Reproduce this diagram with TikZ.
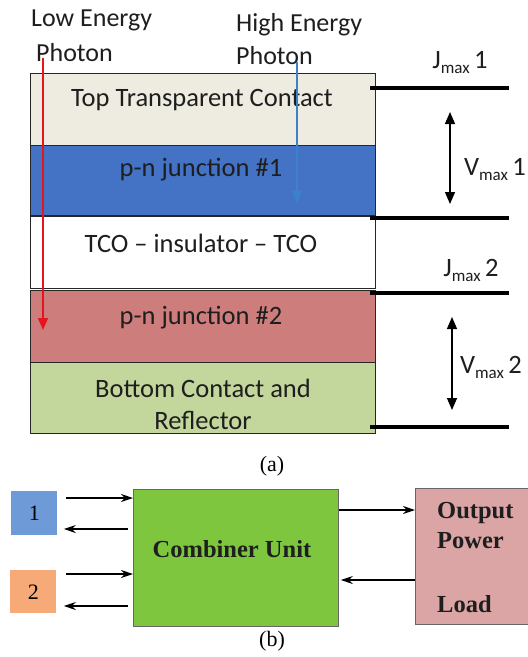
\documentclass[tikz,border=0pt]{standalone}
\usepackage{fontspec}
\setmainfont{Liberation Serif}
\newfontfamily\calib{Carlito}
\usetikzlibrary{arrows.meta}

\definecolor{topc}{RGB}{238,236,225}
\definecolor{pnone}{RGB}{68,114,196}
\definecolor{pntwo}{RGB}{206,125,125}
\definecolor{botc}{RGB}{195,214,155}
\definecolor{cellone}{RGB}{110,155,215}
\definecolor{celltwo}{RGB}{245,170,120}
\definecolor{combc}{RGB}{126,198,62}
\definecolor{loadc}{RGB}{220,165,165}
\definecolor{photred}{RGB}{230,20,30}
\definecolor{photblue}{RGB}{60,130,200}
\definecolor{txt}{RGB}{30,30,30}

\newcommand{\subm}{\raisebox{-5pt}{\fontsize{17}{17}\selectfont max}}

\tikzset{
  layer/.style={draw=black!85, line width=1.3pt, minimum width=345pt,
    inner sep=0pt, anchor=north west},
  ltext/.style={font=\calib\fontsize{26.5}{30}\selectfont, text=txt, inner sep=0pt},
  ptext/.style={font=\calib\fontsize{26}{30}\selectfont, text=txt, inner sep=0pt, anchor=west},
  terminal/.style={line width=3.2pt},
  varrow/.style={line width=1.3pt, {Triangle[length=12pt,width=10pt]}-{Triangle[length=12pt,width=10pt]}},
  photon/.style={line width=1.5pt, -{Triangle[length=12pt,width=10pt]}},
  blk/.style={draw=black!60, line width=0.8pt, inner sep=0pt, anchor=north west},
  btext/.style={font=\bfseries\fontsize{24.5}{28}\selectfont, text=txt, inner sep=0pt},
  flow/.style={line width=1.2pt, -{Stealth[length=12pt,width=8pt]}},
}

\begin{document}
\begin{tikzpicture}[x=1pt,y=-1pt]
\useasboundingbox (0,0) rectangle (528,657);

% layer stack
\node[layer, fill=topc,  minimum height=72pt] (top) at (30,73) {};
\node[layer, fill=pnone, minimum height=70pt] (pn1) at (30,145) {};
\node[layer, fill=white, minimum height=72pt] (tco) at (30,216) {};
\node[layer, fill=pntwo, minimum height=72pt] (pn2) at (30,290) {};
\node[layer, fill=botc,  minimum height=71pt] (bot) at (30,362) {};

\node[ltext] (toptxt) at (202,100) {Top Transparent Contact};
\node[ltext] (pn1txt) at (201,170) {p-n junction \#1};
\node[ltext] (tcotxt) at (201,243) {TCO – insulator – TCO};
\node[ltext] (pn2txt) at (201,318) {p-n junction \#2};
\node[ltext] (bottxt1) at (203,388) {Bottom Contact and};
\node[ltext] (bottxt2) at (203,420) {Reflector};

% photon labels
\node[ptext] (lowa) at (31,20) {Low Energy};
\node[ptext] (lowb) at (36,53) {Photon};
\node[ptext] (higha) at (236,25) {High Energy};
\node[ptext] (highb) at (236,56) {Photon};

% photon paths
\coordinate (rs) at (43,58);
\coordinate (re) at (43,330);
\coordinate (bs) at (297,62);
\coordinate (be) at (297,203);
\draw[photon, photred] (rs) -- (re);
\draw[photon, photblue] (bs) -- (be);

% terminals
\coordinate (t1a) at (370,88);  \coordinate (t1b) at (509,88);
\coordinate (t2a) at (370,218); \coordinate (t2b) at (509,218);
\coordinate (t3a) at (370,293); \coordinate (t3b) at (509,293);
\coordinate (t4a) at (370,427); \coordinate (t4b) at (509,427);
\draw[terminal] (t1a) -- (t1b);
\draw[terminal] (t2a) -- (t2b);
\draw[terminal] (t3a) -- (t3b);
\draw[terminal] (t4a) -- (t4b);

\node[ltext] (j1) at (460,63) {J\subm\,1};
\node[ltext] (j2) at (471,270) {J\subm\,2};
\node[ltext] (vl1) at (495,170) {V\subm\,1};
\node[ltext] (vl2) at (491,367) {V\subm\,2};

\coordinate (v1t) at (450,112);
\coordinate (v1b) at (450,204);
\coordinate (v2t) at (452,317);
\coordinate (v2b) at (452,410);
\draw[varrow] (v1t) -- (v1b);
\draw[varrow] (v2t) -- (v2b);

\node[font=\fontsize{22}{26}\selectfont, inner sep=0pt] (capa) at (272,466) {(a)};

% block diagram
\node[blk, draw=none, fill=cellone, minimum width=46pt, minimum height=44pt] (c1) at (11,491) {};
\node[font=\fontsize{22}{26}\selectfont, inner sep=0pt] (c1t) at (c1.center) {1};
\node[blk, draw=none, fill=celltwo, minimum width=46pt, minimum height=43pt] (c2) at (10,570) {};
\node[font=\fontsize{22}{26}\selectfont, inner sep=0pt] (c2t) at (c2.center) {2};

\node[blk, fill=combc, minimum width=205pt, minimum height=137pt] (comb) at (133,489) {};
\node[btext] (combt) at (232,549) {Combiner Unit};

\node[blk, fill=loadc, minimum width=120pt, minimum height=136pt] (load) at (415,488) {};
\node[btext, anchor=west] (outt) at (437,513) {Output};
\node[btext, anchor=west] (powt) at (437,541) {Power};
\node[btext, anchor=west] (loadt) at (437,604) {Load};

\draw[flow] (c1.east |- 0,498) ++(8,0) -- (comb.west |- 0,498);
\draw[flow] (comb.west |- 0,529) ++(-5,0) -- ([xshift=6pt]c1.east |- 0,529);
\draw[flow] (c2.east |- 0,574) ++(9,0) -- (comb.west |- 0,574);
\draw[flow] (comb.west |- 0,606) ++(-5,0) -- ([xshift=7pt]c2.east |- 0,606);
\draw[flow] (comb.east |- 0,510) -- (load.west |- 0,510);
\draw[flow] (load.west |- 0,580) -- ([xshift=2pt]comb.east |- 0,580);

\node[font=\fontsize{22}{26}\selectfont, inner sep=0pt] (capb) at (272,641) {(b)};
\end{tikzpicture}
\end{document}
